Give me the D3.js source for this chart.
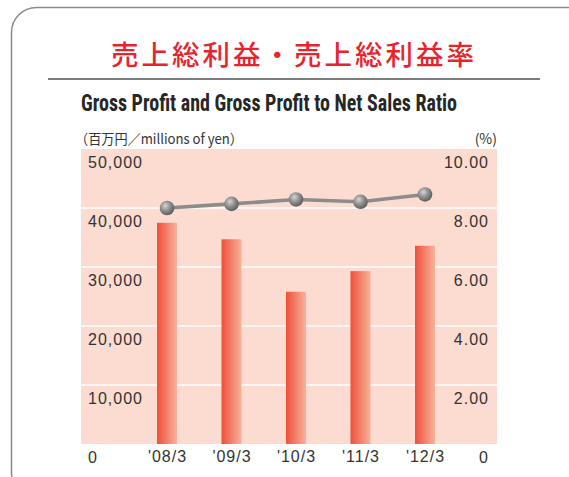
<!DOCTYPE html>
<html><head><meta charset="utf-8">
<script src="https://cdn.jsdelivr.net/npm/d3@7"></script>
<style>
html,body{margin:0;padding:0;background:#fff;}
svg{display:block;}
</style>
</head><body>
<svg id="chart" width="569" height="477"></svg>
<script>
const categories = ["'08/3", "'09/3", "'10/3", "'11/3", "'12/3"];
const grossProfit = [37500, 34700, 25800, 29300, 33600];
const profitRatio = [8.00, 8.14, 8.29, 8.21, 8.46];
const leftTicks = [0, 10000, 20000, 30000, 40000, 50000];
const rightTicks = [0, 2, 4, 6, 8, 10];
const titleJa = "売上総利益・売上総利益率";
const titleEn = "Gross Profit and Gross Profit to Net Sales Ratio";
const unitLeft = "（百万円／millions of yen）";
const unitRight = "(%)";

const svg = d3.select("#chart");
const P = {left: 81, right: 497, top: 149, bottom: 444};

const defs = svg.append("defs");
const bg = defs.append("linearGradient").attr("id","barGrad").attr("x1","0").attr("x2","1").attr("y1","0").attr("y2","0");
bg.append("stop").attr("offset","0").attr("stop-color","#ee503b");
bg.append("stop").attr("offset","1").attr("stop-color","#f9b29a");
const rg = defs.append("radialGradient").attr("id","dotGrad").attr("cx","0.4").attr("cy","0.38").attr("r","0.62").attr("fx","0.38").attr("fy","0.33");
rg.append("stop").attr("offset","0").attr("stop-color","#d6d6d6");
rg.append("stop").attr("offset","0.55").attr("stop-color","#8e8e8e");
rg.append("stop").attr("offset","1").attr("stop-color","#5e5e5e");

// frame
svg.append("rect").attr("x",11.5).attr("y",7.5).attr("width",580).attr("height",490).attr("rx",25)
  .attr("fill","none").attr("stroke","#8a8a8a").attr("stroke-width",1.5);

// titles
svg.append("text").attr("x",294).attr("y",65).attr("text-anchor","middle")
  .attr("font-family","'Noto Sans CJK JP', sans-serif").attr("font-weight",500)
  .attr("font-size",27.5).attr("letter-spacing",3).attr("fill","#e8232c").text(titleJa);
svg.append("line").attr("x1",48).attr("x2",540).attr("y1",79).attr("y2",79)
  .attr("stroke","#7d7d7d").attr("stroke-width",2);
svg.append("text").attr("x",81).attr("y",111)
  .attr("font-family","'Liberation Sans Narrow','Roboto Condensed','Liberation Sans',sans-serif").attr("font-weight",700)
  .attr("font-size",23.5).attr("textLength",376).attr("lengthAdjust","spacingAndGlyphs")
  .attr("fill","#262626").text(titleEn);

// units
svg.append("text").attr("x",75).attr("y",144)
  .attr("font-family","'Noto Sans CJK JP', sans-serif").attr("font-size",14)
  .attr("textLength",168).attr("lengthAdjust","spacingAndGlyphs")
  .attr("fill","#333").text(unitLeft);
svg.append("text").attr("x",497).attr("y",144).attr("text-anchor","end")
  .attr("font-family","'Noto Sans CJK JP', sans-serif").attr("font-size",14)
  .attr("fill","#333").text(unitRight);

// scales
const yL = d3.scaleLinear().domain([0,50000]).range([P.bottom,P.top]);
const yR = d3.scaleLinear().domain([0,10]).range([P.bottom,P.top]);
const x = d3.scalePoint().domain(categories).range([167,425]);

// plot background
svg.append("rect").attr("x",P.left).attr("y",P.top).attr("width",P.right-P.left).attr("height",P.bottom-P.top)
  .attr("fill","#fcdcd0");

// grid
svg.append("g").selectAll("line").data(leftTicks.filter(d=>d>0 && d<50000)).join("line")
  .attr("x1",P.left).attr("x2",P.right).attr("y1",d=>yL(d)).attr("y2",d=>yL(d))
  .attr("stroke","#ffffff").attr("stroke-width",1.5);

// bars
const bw = 20;
svg.append("g").selectAll("rect").data(grossProfit).join("rect")
  .attr("x",(d,i)=>x(categories[i])-bw/2).attr("width",bw)
  .attr("y",d=>yL(d)).attr("height",d=>yL(0)-yL(d))
  .attr("fill","url(#barGrad)");

// line
const line = d3.line().x((d,i)=>x(categories[i])).y(d=>yR(d));
svg.append("path").datum(profitRatio).attr("d",line).attr("fill","none")
  .attr("stroke","#8c8c8c").attr("stroke-width",3.6);
svg.append("g").selectAll("circle").data(profitRatio).join("circle")
  .attr("cx",(d,i)=>x(categories[i])).attr("cy",d=>yR(d)).attr("r",7.3)
  .attr("fill","url(#dotGrad)");

const fontNum = "'Liberation Sans', Arial, sans-serif";
function styleAxis(g, anchor){
  g.select(".domain").remove();
  g.selectAll("text").attr("dy",null).attr("y",18).attr("x",null)
    .attr("text-anchor",anchor).attr("font-family",fontNum).attr("font-size",16)
    .attr("letter-spacing",1).attr("fill","#333");
}
// left axis labels (inside plot)
svg.append("g").attr("transform",`translate(88,0)`)
  .call(d3.axisRight(yL).tickValues(leftTicks).tickFormat(d3.format(",")).tickSize(0).tickPadding(0))
  .call(g=>styleAxis(g,"start"));
// right axis labels
svg.append("g").attr("transform",`translate(489,0)`)
  .call(d3.axisLeft(yR).tickValues(rightTicks).tickFormat(d=>d===0?"0":d3.format(".2f")(d)).tickSize(0).tickPadding(0))
  .call(g=>styleAxis(g,"end"));
// x axis labels
svg.append("g").attr("transform",`translate(0,${P.bottom})`)
  .call(d3.axisBottom(x).tickSize(0).tickPadding(0))
  .call(g=>styleAxis(g,"middle"));
</script>
</body></html>
